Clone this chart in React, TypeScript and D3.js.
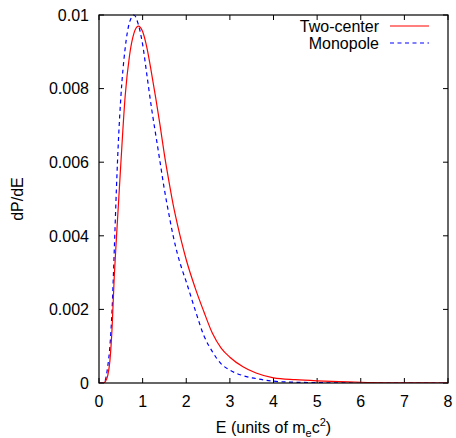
import React from 'react';
import * as d3 from 'd3';

// energy grid (units of m_e c^2) and dP/dE values (x1e-3)
const twoCenterE = [0, 0.1, 0.15, 0.2, 0.25, 0.3, 0.35, 0.4, 0.5, 0.6, 0.7, 0.8, 0.9, 1.0, 1.1, 1.2, 1.3, 1.4, 1.5, 1.6, 1.7, 1.8, 1.9, 2.0, 2.2, 2.4, 2.6, 2.8, 3.0, 3.3, 3.6, 4.0, 4.5, 5.0, 5.5, 6.0, 7.0, 8.0];
const twoCenterP = [0, 0, 0.05, 0.2, 0.6, 1.5, 2.9, 3.95, 5.95, 7.8, 8.9, 9.5, 9.7, 9.55, 9.1, 8.45, 7.75, 7.0, 6.2, 5.5, 4.85, 4.3, 3.8, 3.35, 2.6, 1.95, 1.35, 0.95, 0.7, 0.44, 0.27, 0.14, 0.09, 0.06, 0.04, 0.02, 0.005, 0];

const monopoleE = [0, 0.1, 0.15, 0.2, 0.25, 0.3, 0.35, 0.4, 0.45, 0.5, 0.6, 0.7, 0.8, 0.9, 1.0, 1.1, 1.2, 1.3, 1.4, 1.5, 1.6, 1.7, 1.8, 1.9, 2.0, 2.2, 2.4, 2.6, 2.8, 3.0, 3.3, 3.6, 4.0, 4.5, 5.0, 6.0, 8.0];
const monopoleP = [0, 0, 0.1, 0.45, 1.0, 2.0, 3.6, 5.3, 6.7, 7.75, 9.1, 9.8, 10.0, 9.75, 9.2, 8.35, 7.5, 6.75, 6.0, 5.25, 4.6, 4.0, 3.5, 3.1, 2.75, 2.0, 1.3, 0.85, 0.52, 0.35, 0.2, 0.12, 0.05, 0.02, 0.01, 0, 0];

const xTicks = [0, 1, 2, 3, 4, 5, 6, 7, 8];
const yTicks = [0, 0.002, 0.004, 0.006, 0.008, 0.01];
const yTickLabels = ['0', '0.002', '0.004', '0.006', '0.008', '0.01'];

const W = 456;
const H = 438;
const m = { left: 99, right: 448, top: 15, bottom: 383 };
const font = '"Liberation Sans", Arial, Helvetica, sans-serif';

export default function App() {
  const x = d3.scaleLinear().domain([0, 8]).range([m.left, m.right]);
  const y = d3.scaleLinear().domain([0, 0.01]).range([m.bottom, m.top]);

  const line = d3.line<[number, number]>()
    .x(d => x(d[0]))
    .y(d => y(d[1]))
    .curve(d3.curveMonotoneX);

  const redPts = twoCenterE.map((e, i) => [e, twoCenterP[i] * 1e-3] as [number, number]);
  const bluePts = monopoleE.map((e, i) => [e, monopoleP[i] * 1e-3] as [number, number]);

  const tick = 5;

  return (
    <svg width={W} height={H} style={{ position: 'absolute', left: 0, top: 0, background: '#fff' }} fontFamily={font}>
      <defs>
        <clipPath id="plot">
          <rect x={m.left} y={m.top - 2} width={m.right - m.left} height={m.bottom - m.top + 2} />
        </clipPath>
      </defs>

      {/* ticks, mirrored on all sides and pointing in */}
      {xTicks.map(t => (
        <g key={'x' + t}>
          <line x1={x(t)} x2={x(t)} y1={m.bottom} y2={m.bottom - tick} stroke="#000" />
          <line x1={x(t)} x2={x(t)} y1={m.top} y2={m.top + tick} stroke="#000" />
          <text x={x(t)} y={407} textAnchor="middle" fontSize={16}>{t}</text>
        </g>
      ))}
      {yTicks.map((t, i) => (
        <g key={'y' + t}>
          <line x1={m.left} x2={m.left + tick} y1={y(t)} y2={y(t)} stroke="#000" />
          <line x1={m.right} x2={m.right - tick} y1={y(t)} y2={y(t)} stroke="#000" />
          <text x={89} y={y(t)} dy="0.36em" textAnchor="end" fontSize={16}>{yTickLabels[i]}</text>
        </g>
      ))}

      <g clipPath="url(#plot)">
        <path d={line(bluePts) || ''} fill="none" stroke="#0000ff" strokeWidth={1.2} strokeDasharray="4,3.5" />
        <path d={line(redPts) || ''} fill="none" stroke="#ff0000" strokeWidth={1.2} />
      </g>

      <rect x={m.left} y={m.top} width={m.right - m.left} height={m.bottom - m.top} fill="none" stroke="#000" strokeWidth={1.2} />

      {/* legend */}
      <text x={379} y={32} textAnchor="end" fontSize={16}>Two-center</text>
      <line x1={390} x2={429} y1={26} y2={26} stroke="#ff0000" strokeWidth={1.2} />
      <text x={379} y={49} textAnchor="end" fontSize={16}>Monopole</text>
      <line x1={390} x2={429} y1={43} y2={43} stroke="#0000ff" strokeWidth={1.2} strokeDasharray="4,3.5" />

      {/* axis titles */}
      <text transform={`translate(23,${(m.top + m.bottom) / 2}) rotate(-90)`} textAnchor="middle" fontSize={16}>dP/dE</text>
      <text x={(m.left + m.right) / 2} y={433} textAnchor="middle" fontSize={16}>
        E (units of m<tspan fontSize={11} dy={4}>e</tspan><tspan dy={-4}>c</tspan><tspan fontSize={11} dy={-7}>2</tspan><tspan dy={7}>)</tspan>
      </text>
    </svg>
  );
}
